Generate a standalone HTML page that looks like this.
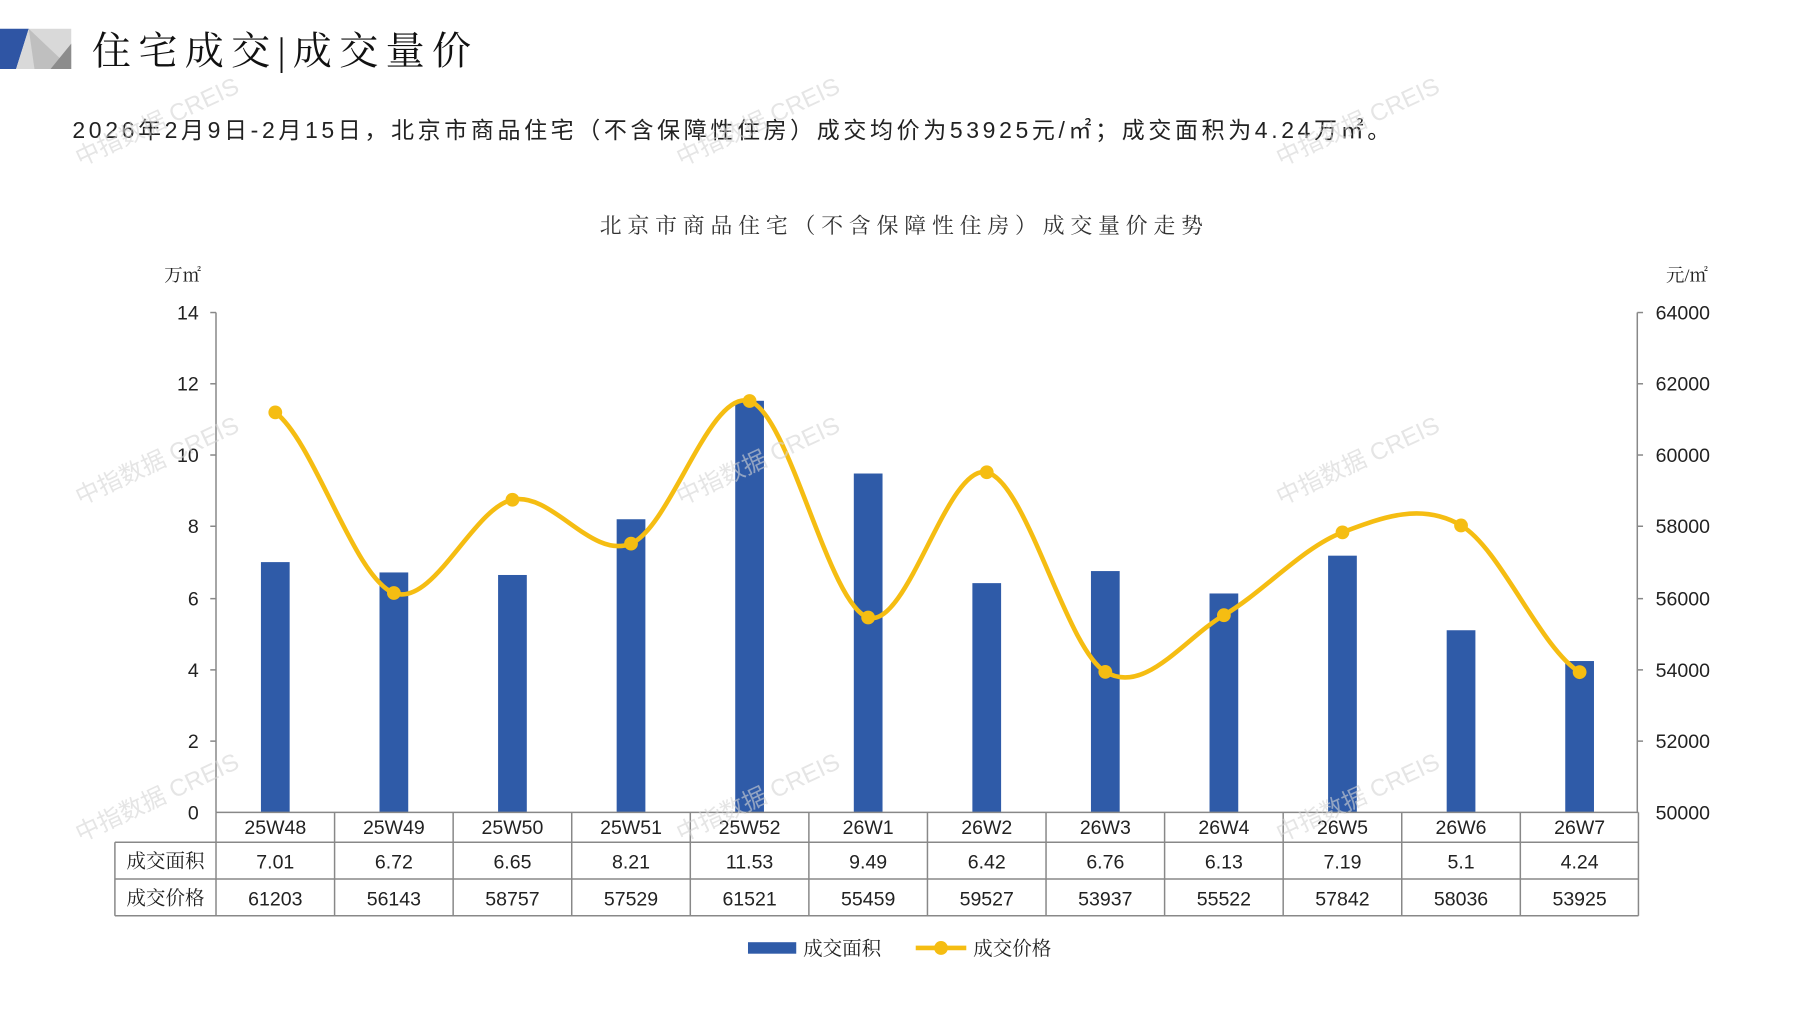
<!DOCTYPE html>
<html><head><meta charset="utf-8">
<style>
html,body{margin:0;padding:0;background:#fff;}
svg{display:block;}
.cj{font-family:"Liberation Serif","Noto Serif CJK SC",serif;}
.nm{font-family:"Liberation Sans","Noto Sans CJK SC",sans-serif;}
.wm{font-family:"Liberation Sans","Noto Sans CJK SC",sans-serif;fill:#d4d4d4;font-size:21px;opacity:0.6;}
</style></head>
<body>
<svg width="1797" height="1010" viewBox="0 0 1564 879" preserveAspectRatio="none" xmlns="http://www.w3.org/2000/svg">
<polygon points="0,25 25,25 14,60 0,60" fill="#2f55a4"/>
<polygon points="25,25 62,25 62,60 14,60" fill="#d9d9d9"/>
<polygon points="25,25 62,60 30,60" fill="#bfbfbf"/>
<polygon points="62,38 62,60 44,60" fill="#8c8c8c"/>
<text x="80" y="56" class="cj" font-size="34" fill="#111" textLength="330" lengthAdjust="spacing">住宅成交|成交量价</text>
<text x="63" y="120" class="nm" font-size="20" fill="#222" textLength="1147" lengthAdjust="spacing">2026年2月9日-2月15日，北京市商品住宅（不含保障性住房）成交均价为53925元/㎡；成交面积为4.24万㎡。</text>
<text x="522" y="203" class="cj" font-size="19" fill="#333" textLength="525" lengthAdjust="spacing">北京市商品住宅（不含保障性住房）成交量价走势</text>
<text x="143" y="245" class="cj" font-size="16" fill="#222">万㎡</text>
<text x="1450" y="245" class="cj" font-size="16" fill="#222">元/㎡</text>

<g stroke="#888" stroke-width="1.3" fill="none">
<line x1="188" y1="272" x2="188" y2="707"/>
<line x1="1425" y1="272" x2="1425" y2="707"/>
<line x1="183" y1="272" x2="188" y2="272"/><line x1="183" y1="334" x2="188" y2="334"/><line x1="183" y1="396" x2="188" y2="396"/><line x1="183" y1="458" x2="188" y2="458"/><line x1="183" y1="521" x2="188" y2="521"/><line x1="183" y1="583" x2="188" y2="583"/><line x1="183" y1="645" x2="188" y2="645"/>
<line x1="1425" y1="272" x2="1430" y2="272"/><line x1="1425" y1="334" x2="1430" y2="334"/><line x1="1425" y1="396" x2="1430" y2="396"/><line x1="1425" y1="458" x2="1430" y2="458"/><line x1="1425" y1="521" x2="1430" y2="521"/><line x1="1425" y1="583" x2="1430" y2="583"/><line x1="1425" y1="645" x2="1430" y2="645"/>
</g>
<g class="nm" font-size="17" fill="#222" text-anchor="end">
<text x="173" y="278">14</text><text x="173" y="340">12</text><text x="173" y="402">10</text><text x="173" y="464">8</text><text x="173" y="527">6</text><text x="173" y="589">4</text><text x="173" y="651">2</text><text x="173" y="713">0</text>
</g>
<g class="nm" font-size="17" fill="#222">
<text x="1441" y="278">64000</text><text x="1441" y="340">62000</text><text x="1441" y="402">60000</text><text x="1441" y="464">58000</text><text x="1441" y="527">56000</text><text x="1441" y="589">54000</text><text x="1441" y="651">52000</text><text x="1441" y="713">50000</text>
</g>

<g fill="#2f5ba8">
<rect x="227.1" y="489.2" width="25" height="217.8"/>
<rect x="330.3" y="498.2" width="25" height="208.8"/>
<rect x="433.5" y="500.4" width="25" height="206.6"/>
<rect x="536.7" y="451.9" width="25" height="255.1"/>
<rect x="639.9" y="348.8" width="25" height="358.2"/>
<rect x="743.1" y="412.1" width="25" height="294.9"/>
<rect x="846.3" y="507.5" width="25" height="199.5"/>
<rect x="949.5" y="497" width="25" height="210"/>
<rect x="1052.7" y="516.5" width="25" height="190.5"/>
<rect x="1155.9" y="483.6" width="25" height="223.4"/>
<rect x="1259.1" y="548.5" width="25" height="158.5"/>
<rect x="1362.3" y="575.3" width="25" height="131.7"/>
</g>

<path d="M239.6,358.9 C274,385.1 308.4,503.4 342.8,516.1 C377.2,528.8 411.6,442.1 446,434.9 C480.4,427.7 514.8,487.4 549.2,473.1 C583.6,458.8 618,338.3 652.4,349.0 C686.8,359.7 721.2,527.1 755.6,537.4 C790,547.7 824.4,403.1 858.8,411.0 C893.2,418.9 927.6,564.0 962,584.7 C996.4,605.4 1030.8,555.6 1065.2,535.4 C1099.6,515.2 1134,476.3 1168.4,463.3 C1202.8,450.3 1237.2,437.0 1271.6,457.3 C1306,477.6 1340.4,563.7 1374.8,585.0" fill="none" stroke="#f5bd12" stroke-width="4"/>
<g fill="#f5bd12">
<circle cx="239.6" cy="358.9" r="6"/><circle cx="342.8" cy="516.1" r="6"/><circle cx="446" cy="434.9" r="6"/><circle cx="549.2" cy="473.1" r="6"/><circle cx="652.4" cy="349" r="6"/><circle cx="755.6" cy="537.4" r="6"/><circle cx="858.8" cy="411" r="6"/><circle cx="962" cy="584.7" r="6"/><circle cx="1065.2" cy="535.4" r="6"/><circle cx="1168.4" cy="463.3" r="6"/><circle cx="1271.6" cy="457.3" r="6"/><circle cx="1374.8" cy="585" r="6"/>
</g>

<g stroke="#888" stroke-width="1.3" fill="none">
<line x1="188" y1="707" x2="1426" y2="707"/>
<line x1="100" y1="733" x2="1426" y2="733"/>
<line x1="100" y1="765" x2="1426" y2="765"/>
<line x1="100" y1="797" x2="1426" y2="797"/>
<line x1="100" y1="733" x2="100" y2="797"/>
<line x1="188" y1="707" x2="188" y2="797"/>
<line x1="291.2" y1="707" x2="291.2" y2="797"/><line x1="394.4" y1="707" x2="394.4" y2="797"/><line x1="497.6" y1="707" x2="497.6" y2="797"/><line x1="600.8" y1="707" x2="600.8" y2="797"/><line x1="704" y1="707" x2="704" y2="797"/><line x1="807.2" y1="707" x2="807.2" y2="797"/><line x1="910.4" y1="707" x2="910.4" y2="797"/><line x1="1013.6" y1="707" x2="1013.6" y2="797"/><line x1="1116.8" y1="707" x2="1116.8" y2="797"/><line x1="1220" y1="707" x2="1220" y2="797"/><line x1="1323.2" y1="707" x2="1323.2" y2="797"/><line x1="1426" y1="707" x2="1426" y2="797"/>
</g>
<g class="nm" font-size="17" fill="#222" text-anchor="middle">
<text x="239.6" y="726">25W48</text><text x="342.8" y="726">25W49</text><text x="446" y="726">25W50</text><text x="549.2" y="726">25W51</text><text x="652.4" y="726">25W52</text><text x="755.6" y="726">26W1</text><text x="858.8" y="726">26W2</text><text x="962" y="726">26W3</text><text x="1065.2" y="726">26W4</text><text x="1168.4" y="726">26W5</text><text x="1271.6" y="726">26W6</text><text x="1374.8" y="726">26W7</text>
<text x="239.6" y="756">7.01</text><text x="342.8" y="756">6.72</text><text x="446" y="756">6.65</text><text x="549.2" y="756">8.21</text><text x="652.4" y="756">11.53</text><text x="755.6" y="756">9.49</text><text x="858.8" y="756">6.42</text><text x="962" y="756">6.76</text><text x="1065.2" y="756">6.13</text><text x="1168.4" y="756">7.19</text><text x="1271.6" y="756">5.1</text><text x="1374.8" y="756">4.24</text>
<text x="239.6" y="788">61203</text><text x="342.8" y="788">56143</text><text x="446" y="788">58757</text><text x="549.2" y="788">57529</text><text x="652.4" y="788">61521</text><text x="755.6" y="788">55459</text><text x="858.8" y="788">59527</text><text x="962" y="788">53937</text><text x="1065.2" y="788">55522</text><text x="1168.4" y="788">57842</text><text x="1271.6" y="788">58036</text><text x="1374.8" y="788">53925</text>
</g>
<g class="cj" font-size="17" fill="#222" text-anchor="middle">
<text x="144" y="755">成交面积</text>
<text x="144" y="787">成交价格</text>
</g>

<rect x="651" y="820" width="42" height="10" fill="#2f5ba8"/>
<text x="699" y="831" class="cj" font-size="17" fill="#222">成交面积</text>
<line x1="797" y1="825" x2="841" y2="825" stroke="#f5bd12" stroke-width="4"/>
<circle cx="819" cy="825" r="6" fill="#f5bd12"/>
<text x="847" y="831" class="cj" font-size="17" fill="#222">成交价格</text>

<g class="wm">
<text transform="translate(70,145) rotate(-25)">中指数据 CREIS</text>
<text transform="translate(593,145) rotate(-25)">中指数据 CREIS</text>
<text transform="translate(1115,145) rotate(-25)">中指数据 CREIS</text>
<text transform="translate(70,440) rotate(-25)">中指数据 CREIS</text>
<text transform="translate(593,440) rotate(-25)">中指数据 CREIS</text>
<text transform="translate(1115,440) rotate(-25)">中指数据 CREIS</text>
<text transform="translate(70,733) rotate(-25)">中指数据 CREIS</text>
<text transform="translate(593,733) rotate(-25)">中指数据 CREIS</text>
<text transform="translate(1115,733) rotate(-25)">中指数据 CREIS</text>
</g>
</svg>
</body></html>
